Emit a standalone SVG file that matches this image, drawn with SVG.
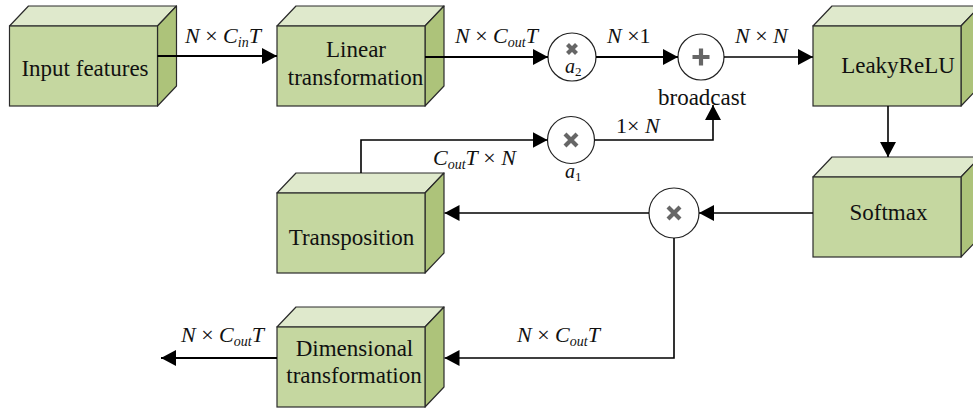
<svg xmlns="http://www.w3.org/2000/svg" width="973" height="409" viewBox="0 0 973 409" font-family="'Liberation Serif', 'DejaVu Serif', serif">
  <style>
    .front { fill: #c5d7a0; stroke: #2b2b2b; stroke-width: 1.2; }
    .top { fill: #dfe9cc; stroke: #2b2b2b; stroke-width: 1.2; stroke-linejoin: round; }
    .side { fill: #adc37a; stroke: #2b2b2b; stroke-width: 1.2; stroke-linejoin: round; }
    text { font-family: 'Liberation Serif', 'DejaVu Serif', serif; fill: #111; }
    .lbl { font-size: 23px; }
    .math { font-size: 22px; }
    .it { font-style: italic; }
    .sub { font-style: italic; font-size: 14px; }
    .coef { font-style: italic; font-size: 20px; }
    .idx { font-size: 13px; }
    .op { fill: #fff; stroke: #222; stroke-width: 1.2; }
    .glyph { stroke: #666; stroke-width: 4.2; stroke-linecap: butt; fill: none; }
    .wire { fill: none; stroke: #000; stroke-width: 1.6; }
    .thick { stroke-width: 2.2; }
  </style>
  <defs>
    <marker id="arrow" viewBox="0 0 15 16" markerWidth="15" markerHeight="16" refX="15" refY="8" orient="auto" markerUnits="userSpaceOnUse">
      <path d="M0,0 L15,8 L0,16 Z" fill="#000"/>
    </marker>
    <!-- 3D block: front face 148x80, depth offset (19,-20) -->
    <g id="block">
      <polygon class="top" points="0,0 19,-20 167,-20 148,0"/>
      <polygon class="side" points="148,0 167,-20 167,60 148,80"/>
      <rect class="front" x="0" y="0" width="148" height="80"/>
    </g>
  </defs>

  <!-- processing blocks -->
  <g id="input-features">
    <use href="#block" x="9.5" y="26"/>
    <text class="lbl" x="85" y="76" text-anchor="middle">Input features</text>
  </g>
  <g id="linear-transformation">
    <use href="#block" x="277" y="26"/>
    <text class="lbl" x="356" y="57" text-anchor="middle">Linear</text>
    <text class="lbl" x="355.5" y="85" text-anchor="middle">transformation</text>
  </g>
  <g id="leakyrelu">
    <use href="#block" x="813" y="26"/>
    <text class="lbl" x="898" y="73" text-anchor="middle">LeakyReLU</text>
  </g>
  <g id="softmax">
    <use href="#block" x="813" y="177"/>
    <text class="lbl" x="888.5" y="220" text-anchor="middle">Softmax</text>
  </g>
  <g id="transposition">
    <use href="#block" x="277" y="193"/>
    <text class="lbl" x="351.5" y="245" text-anchor="middle">Transposition</text>
  </g>
  <g id="dimensional-transformation">
    <use href="#block" x="277" y="327"/>
    <text class="lbl" x="354.5" y="356" text-anchor="middle">Dimensional</text>
    <text class="lbl" x="354" y="383" text-anchor="middle">transformation</text>
  </g>

  <!-- operators -->
  <g id="mul-a2">
    <circle class="op" cx="572" cy="57" r="24"/>
    <path class="glyph" d="M567.5,44.5 L576.5,53.5 M576.5,44.5 L567.5,53.5"/>
    <text x="565" y="73"><tspan class="coef">a</tspan><tspan class="idx" dy="3">2</tspan></text>
  </g>
  <g id="add-broadcast">
    <circle class="op" cx="701" cy="57" r="23"/>
    <path class="glyph" d="M692.5,57 H709.5 M701,48.5 V65.5"/>
    <text class="lbl" x="658" y="105">broadcast</text>
  </g>
  <g id="mul-a1">
    <circle class="op" cx="571" cy="140" r="23.5"/>
    <path class="glyph" d="M565,134 L577,146 M577,134 L565,146"/>
    <text x="565" y="178"><tspan class="coef">a</tspan><tspan class="idx" dy="3">1</tspan></text>
  </g>
  <g id="mul-out">
    <circle class="op" cx="674" cy="213" r="25"/>
    <path class="glyph" d="M668,207 L680,219 M680,207 L668,219"/>
  </g>

  <!-- connectors -->
  <g id="connectors">
    <path class="wire thick" d="M157.5,56 H277" marker-end="url(#arrow)"/>
    <path class="wire thick" d="M425,57 H548" marker-end="url(#arrow)"/>
    <path class="wire thick" d="M596,57 H678" marker-end="url(#arrow)"/>
    <path class="wire" d="M724,57 H813" marker-end="url(#arrow)"/>
    <path class="wire" d="M888,106 V157" marker-end="url(#arrow)"/>
    <path class="wire" d="M813,213 H699" marker-end="url(#arrow)"/>
    <path class="wire" d="M649,213 H444.5" marker-end="url(#arrow)"/>
    <path class="wire" d="M674,238 V358 H444.5" marker-end="url(#arrow)"/>
    <path class="wire thick" d="M277,358 H161" marker-end="url(#arrow)"/>
    <path class="wire" d="M361,173 V140 H547.5" marker-end="url(#arrow)"/>
    <path class="wire" d="M594.5,140 H713 V105" marker-end="url(#arrow)"/>
  </g>

  <!-- dimension labels -->
  <g id="labels">
    <text class="math" x="185" y="43"><tspan class="it">N</tspan> × <tspan class="it">C</tspan><tspan class="sub" dy="4">in</tspan><tspan class="it" dy="-4">T</tspan></text>
    <text class="math" x="455" y="43"><tspan class="it">N</tspan> × <tspan class="it">C</tspan><tspan class="sub" dy="4">out</tspan><tspan class="it" dy="-4">T</tspan></text>
    <text class="math" x="607" y="43"><tspan class="it">N</tspan> ×1</text>
    <text class="math" x="735" y="43"><tspan class="it">N</tspan> × <tspan class="it">N</tspan></text>
    <text class="math" x="616" y="133">1× <tspan class="it">N</tspan></text>
    <text class="math" x="433" y="165"><tspan class="it">C</tspan><tspan class="sub" dy="4">out</tspan><tspan class="it" dy="-4">T</tspan> × <tspan class="it">N</tspan></text>
    <text class="math" x="517" y="342"><tspan class="it">N</tspan> × <tspan class="it">C</tspan><tspan class="sub" dy="4">out</tspan><tspan class="it" dy="-4">T</tspan></text>
    <text class="math" x="181" y="342"><tspan class="it">N</tspan> × <tspan class="it">C</tspan><tspan class="sub" dy="4">out</tspan><tspan class="it" dy="-4">T</tspan></text>
  </g>
</svg>
